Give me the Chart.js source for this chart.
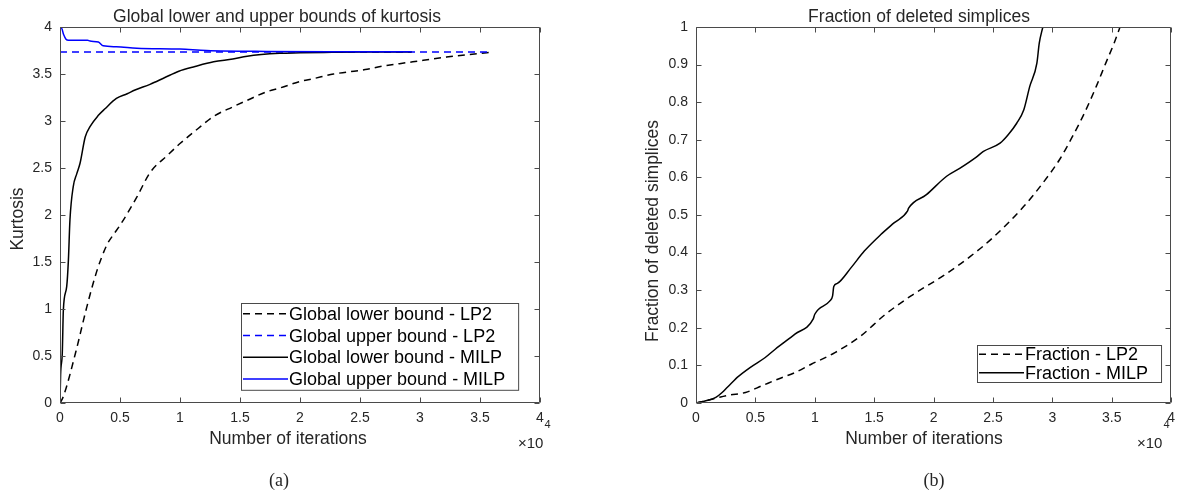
<!DOCTYPE html>
<html>
<head>
<meta charset="utf-8">
<script src="https://cdn.jsdelivr.net/npm/chart.js@4.4.0/dist/chart.umd.min.js"></script>
<style>
  html, body { margin: 0; padding: 0; background: #fff; }
  #wrap { position: relative; width: 1182px; height: 493px; overflow: hidden; }
  canvas { position: absolute; top: 0; }
  #left { left: 0; width: 600px; height: 493px; }
  #right { left: 600px; width: 582px; height: 493px; }
</style>
</head>
<body>
<div id="wrap">
  <canvas id="left" width="600" height="493"></canvas>
  <canvas id="right" width="582" height="493"></canvas>
</div>
<script>
// Kurtosis bounds vs. iterations (panel a)
const lp2LowerIter = [0, 280, 1330, 1900, 2170, 3060, 3900, 4500, 5000, 6400, 7500, 9000, 10000, 11700, 12800, 14400, 15600, 17200, 18300, 20000, 21100, 22800, 23900, 25600, 26700, 28300, 29400, 32200, 35100, 35800];
const lp2LowerKurt = [0, 0.07, 0.55, 0.85, 0.99, 1.40, 1.68, 1.80, 1.89, 2.19, 2.45, 2.64, 2.76, 2.94, 3.05, 3.15, 3.22, 3.31, 3.35, 3.42, 3.45, 3.50, 3.52, 3.55, 3.58, 3.61, 3.63, 3.68, 3.72, 3.73];

const lp2UpperIter = [0, 35800];
const lp2UpperKurt = [3.735, 3.735];

const milpLowerIter = [0, 50, 190, 280, 560, 700, 830, 1100, 1400, 1670, 2100, 2500, 3200, 3750, 4700, 5600, 6250, 7500, 8700, 9900, 11250, 12800, 14400, 15600, 18300, 20000, 22000, 25000, 29300];
const milpLowerKurt = [0, 0.30, 0.53, 0.99, 1.24, 1.52, 1.95, 2.30, 2.44, 2.55, 2.83, 2.94, 3.06, 3.13, 3.24, 3.29, 3.33, 3.39, 3.46, 3.53, 3.58, 3.63, 3.66, 3.69, 3.72, 3.725, 3.73, 3.735, 3.735];

const milpUpperIter = [0, 30, 120, 300, 500, 700, 2300, 2500, 3200, 3600, 4700, 6400, 10000, 12200, 17200, 23000, 29300];
const milpUpperKurt = [3.77, 3.99, 3.99, 3.92, 3.87, 3.86, 3.86, 3.85, 3.84, 3.80, 3.79, 3.775, 3.765, 3.75, 3.74, 3.737, 3.737];

// Fraction of deleted simplices (panel b)
const fracLp2Iter = [0, 830, 1670, 2080, 2780, 4170, 5560, 6940, 8330, 9700, 11700, 13900, 15800, 18100, 20800, 23100, 25000, 27600, 29200, 30600, 31700, 32700, 33700, 34500, 35200, 35700];
const fracLp2Val = [0, 0.006, 0.013, 0.016, 0.021, 0.028, 0.046, 0.064, 0.081, 0.103, 0.134, 0.179, 0.232, 0.285, 0.338, 0.39, 0.44, 0.523, 0.585, 0.647, 0.709, 0.771, 0.842, 0.904, 0.957, 1.0];

const fracMilpIter = [0, 830, 1670, 2200, 2640, 3060, 3470, 4580, 5830, 6670, 8330, 9860, 10000, 11250, 11500, 11600, 11900, 13060, 14170, 15560, 16670, 17800, 17900, 19400, 21100, 22200, 23600, 24200, 25600, 26300, 27000, 27600, 28100, 28700, 28900, 29200];
const fracMilpVal = [0, 0.006, 0.015, 0.028, 0.042, 0.055, 0.068, 0.095, 0.121, 0.143, 0.183, 0.223, 0.236, 0.271, 0.285, 0.31, 0.318, 0.36, 0.404, 0.448, 0.479, 0.51, 0.518, 0.554, 0.603, 0.624, 0.654, 0.669, 0.691, 0.714, 0.744, 0.78, 0.842, 0.904, 0.957, 1.0];

const xTicksStep = 5000;
const kurtTicksStep = 0.5;
const fracTicksStep = 0.1;

const FONT = '"Liberation Sans", Arial, Helvetica, sans-serif';
const SERIF = '"Liberation Serif", "Times New Roman", serif';
const TEXT_COLOR = '#262626';
const AXIS_COLOR = '#4a4a4a';
const TICK_LEN = 5;

const pts = (xs, ys) => xs.map((v, i) => ({ x: v, y: ys[i] }));

function series(label, xs, ys, color, dashed, order) {
    return {
        label: label,
        data: pts(xs, ys),
        showLine: true,
        borderColor: color,
        backgroundColor: color,
        borderWidth: 1.5,
        borderDash: dashed ? [7, 5] : [],
        pointRadius: 0,
        cubicInterpolationMode: 'monotone',
        order: order
    };
}

// MATLAB-like box, inward ticks, legend and text labels
const matlabFrame = {
    id: 'matlabFrame',
    afterDraw(chart, args, o) {
        const { ctx, chartArea: a } = chart;
        const xs = chart.scales.x, ys = chart.scales.y;
        ctx.save();

        // box + ticks
        const L = Math.round(a.left) + 0.5, R = Math.round(a.right) - 0.5;
        const T = Math.round(a.top) + 0.5, B = Math.round(a.bottom) - 0.5;
        ctx.strokeStyle = AXIS_COLOR;
        ctx.lineWidth = 1;
        ctx.setLineDash([]);
        ctx.beginPath();
        ctx.rect(L, T, R - L, B - T);
        xs.ticks.forEach(t => {
            const px = Math.round(xs.getPixelForValue(t.value)) + 0.5;
            ctx.moveTo(px, B); ctx.lineTo(px, B - TICK_LEN);
            ctx.moveTo(px, T); ctx.lineTo(px, T + TICK_LEN);
        });
        ys.ticks.forEach(t => {
            const py = Math.round(ys.getPixelForValue(t.value)) + 0.5;
            ctx.moveTo(L, py); ctx.lineTo(L + TICK_LEN, py);
            ctx.moveTo(R, py); ctx.lineTo(R - TICK_LEN, py);
        });
        ctx.stroke();

        // legend
        const lg = o.legend;
        const sets = chart.data.datasets;
        ctx.font = lg.size + 'px ' + FONT;
        const textW = Math.max(...sets.map(d => ctx.measureText(d.label).width));
        const sample = 45;
        const w = 2 + sample + 1 + textW + lg.pad;
        const h = lg.rowH * sets.length;
        ctx.fillStyle = '#fff';
        ctx.fillRect(lg.x, lg.y, w, h);
        ctx.strokeStyle = AXIS_COLOR;
        ctx.lineWidth = 1;
        ctx.strokeRect(lg.x + 0.5, lg.y + 0.5, w, h);
        sets.forEach((d, i) => {
            const cy = lg.y + lg.rowH * (i + 0.5);
            ctx.strokeStyle = d.borderColor;
            ctx.lineWidth = d.borderWidth;
            ctx.setLineDash(d.borderDash);
            ctx.beginPath();
            ctx.moveTo(lg.x + 2, cy);
            ctx.lineTo(lg.x + 2 + sample, cy);
            ctx.stroke();
            ctx.setLineDash([]);
            ctx.fillStyle = '#000';
            ctx.textAlign = 'left';
            ctx.textBaseline = 'middle';
            ctx.fillText(d.label, lg.x + 3 + sample, cy + 1);
        });

        // texts
        ctx.fillStyle = TEXT_COLOR;
        ctx.textBaseline = 'alphabetic';
        o.texts.forEach(t => {
            ctx.font = t.size + 'px ' + (t.serif ? SERIF : FONT);
            ctx.textAlign = t.align || 'center';
            ctx.save();
            ctx.translate(t.x, t.y);
            if (t.rotate) ctx.rotate(-Math.PI / 2);
            ctx.fillText(t.text, 0, 0);
            ctx.restore();
        });

        // x10^4 multiplier
        const ex = o.exponent;
        ctx.textAlign = 'left';
        ctx.font = '15px ' + FONT;
        ctx.fillText('\u00d710', ex.x, ex.y);
        const ew = ctx.measureText('\u00d710').width;
        ctx.font = '11px ' + FONT;
        ctx.fillText('4', ex.x + ew + 1, ex.y - 20);

        ctx.restore();
    }
};

function makeOptions(cfg) {
    return {
        responsive: false,
        animation: false,
        events: [],
        layout: { padding: cfg.padding },
        scales: {
            x: {
                type: 'linear',
                min: 0,
                max: 40000,
                grid: { display: false, drawTicks: false },
                border: { display: false },
                ticks: {
                    stepSize: xTicksStep,
                    padding: 7,
                    color: TEXT_COLOR,
                    font: { family: FONT, size: 14 },
                    maxRotation: 0,
                    autoSkip: false,
                    callback: v => String(v / 10000)
                },
                afterFit: s => { s.height = 50; }
            },
            y: {
                type: 'linear',
                min: 0,
                max: cfg.yMax,
                grid: { display: false, drawTicks: false },
                border: { display: false },
                ticks: {
                    stepSize: cfg.yStep,
                    padding: 8,
                    color: TEXT_COLOR,
                    font: { family: FONT, size: 14 },
                    autoSkip: false,
                    callback: v => String(Math.round(v * 100) / 100)
                },
                afterFit: s => { s.width = cfg.yWidth; }
            }
        },
        plugins: {
            legend: { display: false },
            title: { display: false },
            tooltip: { enabled: false },
            matlabFrame: {
                legend: cfg.legend,
                texts: cfg.texts,
                exponent: cfg.exponent
            }
        }
    };
}

new Chart(document.getElementById('left'), {
    type: 'scatter',
    data: {
        datasets: [
            series('Global lower bound - LP2', lp2LowerIter, lp2LowerKurt, '#000000', true, 3),
            series('Global upper bound - LP2', lp2UpperIter, lp2UpperKurt, '#0000ff', true, 2),
            series('Global lower bound - MILP', milpLowerIter, milpLowerKurt, '#000000', false, 1),
            series('Global upper bound - MILP', milpUpperIter, milpUpperKurt, '#0000ff', false, 0)
        ]
    },
    options: makeOptions({
        padding: { left: 0, right: 60, top: 27, bottom: 40 },
        yMax: 4,
        yStep: kurtTicksStep,
        yWidth: 60,
        legend: { x: 241, y: 303, rowH: 21.7, size: 18, pad: 13 },
        exponent: { x: 518, y: 448 },
        texts: [
            { text: 'Global lower and upper bounds of kurtosis', x: 277, y: 22, size: 17.5 },
            { text: 'Number of iterations', x: 288, y: 444, size: 17.5 },
            { text: 'Kurtosis', x: 23, y: 219, size: 17.5, rotate: true },
            { text: '(a)', x: 279, y: 486, size: 18, serif: true }
        ]
    }),
    plugins: [matlabFrame]
});

new Chart(document.getElementById('right'), {
    type: 'scatter',
    data: {
        datasets: [
            series('Fraction - LP2', fracLp2Iter, fracLp2Val, '#000000', true, 1),
            series('Fraction - MILP', fracMilpIter, fracMilpVal, '#000000', false, 0)
        ]
    },
    options: makeOptions({
        padding: { left: 0, right: 6, top: 27, bottom: 40 },
        yMax: 1,
        yStep: fracTicksStep,
        yWidth: 96,
        legend: { x: 377, y: 345, rowH: 18.5, size: 18, pad: 13 },
        exponent: { x: 537, y: 448 },
        texts: [
            { text: 'Fraction of deleted simplices', x: 319, y: 22, size: 17.5 },
            { text: 'Number of iterations', x: 324, y: 444, size: 17.5 },
            { text: 'Fraction of deleted simplices', x: 58, y: 231, size: 17.5, rotate: true },
            { text: '(b)', x: 334, y: 486, size: 18, serif: true }
        ]
    }),
    plugins: [matlabFrame]
});
</script>
</body>
</html>
